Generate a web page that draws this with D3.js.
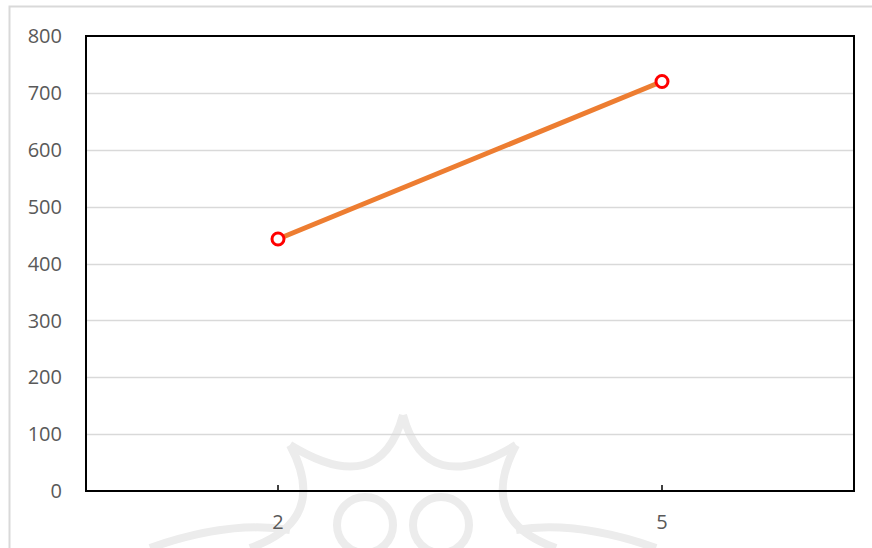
<!DOCTYPE html>
<html>
<head>
<meta charset="utf-8">
<script src="https://cdn.jsdelivr.net/npm/d3@7"></script>
<style>
  body { margin: 0; background: #fff; }
  text { font-family: "Open Sans", sans-serif; }
</style>
</head>
<body>
<script>
/* Data */
const categories = ["2", "5"]
const values = [443, 720]
const yTicks = [0, 100, 200, 300, 400, 500, 600, 700, 800]

/* Size */
const width = 872
const height = 548
const margin = { top: 36, right: 18, bottom: 57, left: 86 }

const svg = d3.select("body")
  .append("svg")
  .attr("width", width)
  .attr("height", height)

/* Outer frame */
svg.append("path")
  .attr("d", `M9.5,${height} V6.5 H${width}`)
  .attr("fill", "none")
  .attr("stroke", "#d9d9d9")
  .attr("stroke-width", 2)

/* Faint watermark */
const wm = svg.append("g")
  .attr("fill", "none")
  .attr("stroke", "#ececec")
  .attr("stroke-width", 8)
wm.append("path").attr("d", "M403,415 Q380,500 290,445")
wm.append("path").attr("d", "M403,415 Q426,500 516,445")
wm.append("path").attr("d", "M290,445 Q330,520 250,548")
wm.append("path").attr("d", "M516,445 Q476,520 556,548")
wm.append("circle").attr("cx", 365).attr("cy", 525).attr("r", 28)
wm.append("circle").attr("cx", 441).attr("cy", 525).attr("r", 28)
wm.append("path").attr("d", "M150,548 Q230,520 290,530")
wm.append("path").attr("d", "M656,548 Q576,520 516,530")

/* Scales */
const x = d3.scaleBand()
  .domain(categories)
  .range([margin.left, width - margin.right])

const y = d3.scaleLinear()
  .domain([0, 800])
  .range([height - margin.bottom, margin.top])

/* Gridlines */
svg.append("g")
  .selectAll("line")
  .data(yTicks.filter(d => d > 0 && d < 800))
  .enter()
  .append("line")
  .attr("x1", margin.left)
  .attr("x2", width - margin.right)
  .attr("y1", d => Math.round(y(d)) + 0.5)
  .attr("y2", d => Math.round(y(d)) + 0.5)
  .attr("stroke", "#d9d9d9")
  .attr("stroke-width", 1.5)

/* Plot border */
svg.append("rect")
  .attr("x", margin.left)
  .attr("y", margin.top)
  .attr("width", width - margin.left - margin.right)
  .attr("height", height - margin.top - margin.bottom)
  .attr("fill", "none")
  .attr("stroke", "#000")
  .attr("stroke-width", 2)

/* Y axis labels */
svg.append("g")
  .selectAll("text")
  .data(yTicks)
  .enter()
  .append("text")
  .attr("x", 62)
  .attr("y", d => y(d))
  .attr("dy", "0.36em")
  .attr("text-anchor", "end")
  .attr("font-size", 20)
  .attr("fill", "#595959")
  .text(d => d)

/* X axis ticks and labels */
const xAxis = svg.append("g")
xAxis.selectAll("line")
  .data(categories)
  .enter()
  .append("line")
  .attr("x1", d => x(d) + x.bandwidth() / 2)
  .attr("x2", d => x(d) + x.bandwidth() / 2)
  .attr("y1", y(0))
  .attr("y2", y(0) - 6)
  .attr("stroke", "#000")
  .attr("stroke-width", 1.5)
xAxis.selectAll("text")
  .data(categories)
  .enter()
  .append("text")
  .attr("x", d => x(d) + x.bandwidth() / 2)
  .attr("y", 529)
  .attr("text-anchor", "middle")
  .attr("font-size", 20)
  .attr("fill", "#595959")
  .text(d => d)

/* Line */
const points = categories.map((c, i) => [x(c) + x.bandwidth() / 2, y(values[i])])
svg.append("path")
  .attr("d", d3.line()(points))
  .attr("fill", "none")
  .attr("stroke", "#ED7D31")
  .attr("stroke-width", 5)
  .attr("stroke-linecap", "round")

/* Markers */
svg.append("g")
  .selectAll("circle")
  .data(points)
  .enter()
  .append("circle")
  .attr("cx", d => d[0])
  .attr("cy", d => d[1])
  .attr("r", 6)
  .attr("fill", "#fff")
  .attr("stroke", "#ff0000")
  .attr("stroke-width", 3)
</script>
</body>
</html>
